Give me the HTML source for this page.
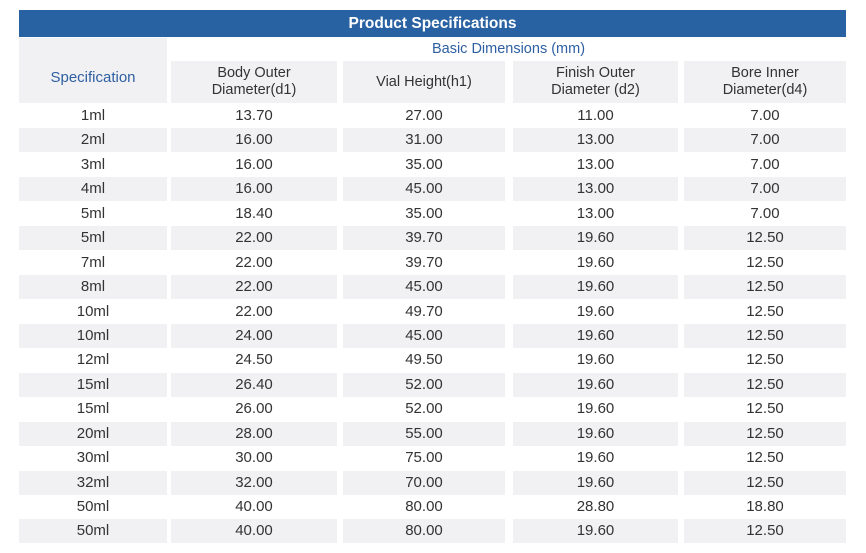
<!DOCTYPE html>
<html><head><meta charset="utf-8"><style>
body{margin:0;width:866px;height:553px;background:#fff;position:relative;overflow:hidden;font-family:"Liberation Sans",sans-serif;color:#333;}
.a{position:absolute;}
.t{left:19px;top:10px;width:827px;height:27px;background:#2962a3;color:#fff;font-size:15.5px;font-weight:bold;text-align:center;line-height:27px;}
.g{background:#f1f1f3;}
.r{position:absolute;left:0;width:866px;height:24px;font-size:15px;line-height:24px;}
.r span{position:absolute;top:0;height:24px;text-align:center;}
.c1{left:19px;width:148px}.c2{left:171px;width:166px}.c3{left:343px;width:162px}.c4{left:513px;width:165px}.c5{left:684px;width:162px}
.g span{background:#f1f1f3;}
.h{font-size:14.5px;line-height:17px;display:flex;align-items:center;justify-content:center;text-align:center;background:#f1f1f3;top:61px;height:42px;}
</style></head><body>
<div class="a t">Product Specifications</div>
<div class="a" style="left:19px;top:38px;width:148px;height:65px;background:#f1f1f3;color:#2d5fa2;font-size:15px;line-height:65px;text-align:center;padding-top:15px;box-sizing:border-box;line-height:50px">Specification</div>
<div class="a" style="left:171px;top:38px;width:675px;height:22px;color:#2d5fa2;font-size:14.5px;line-height:22px;text-align:center">Basic Dimensions (mm)</div>
<div class="a h c2">Body Outer<br>Diameter(d1)</div>
<div class="a h c3">Vial Height(h1)</div>
<div class="a h c4">Finish Outer<br>Diameter (d2)</div>
<div class="a h c5">Bore Inner<br>Diameter(d4)</div>
<div class="r" style="top:104px"><span class="c1">1ml</span><span class="c2">13.70</span><span class="c3">27.00</span><span class="c4">11.00</span><span class="c5">7.00</span></div>
<div class="r g" style="top:128px;background:none"><span class="c1">2ml</span><span class="c2">16.00</span><span class="c3">31.00</span><span class="c4">13.00</span><span class="c5">7.00</span></div>
<div class="r" style="top:153px"><span class="c1">3ml</span><span class="c2">16.00</span><span class="c3">35.00</span><span class="c4">13.00</span><span class="c5">7.00</span></div>
<div class="r g" style="top:177px;background:none"><span class="c1">4ml</span><span class="c2">16.00</span><span class="c3">45.00</span><span class="c4">13.00</span><span class="c5">7.00</span></div>
<div class="r" style="top:202px"><span class="c1">5ml</span><span class="c2">18.40</span><span class="c3">35.00</span><span class="c4">13.00</span><span class="c5">7.00</span></div>
<div class="r g" style="top:226px;background:none"><span class="c1">5ml</span><span class="c2">22.00</span><span class="c3">39.70</span><span class="c4">19.60</span><span class="c5">12.50</span></div>
<div class="r" style="top:251px"><span class="c1">7ml</span><span class="c2">22.00</span><span class="c3">39.70</span><span class="c4">19.60</span><span class="c5">12.50</span></div>
<div class="r g" style="top:275px;background:none"><span class="c1">8ml</span><span class="c2">22.00</span><span class="c3">45.00</span><span class="c4">19.60</span><span class="c5">12.50</span></div>
<div class="r" style="top:300px"><span class="c1">10ml</span><span class="c2">22.00</span><span class="c3">49.70</span><span class="c4">19.60</span><span class="c5">12.50</span></div>
<div class="r g" style="top:324px;background:none"><span class="c1">10ml</span><span class="c2">24.00</span><span class="c3">45.00</span><span class="c4">19.60</span><span class="c5">12.50</span></div>
<div class="r" style="top:348px"><span class="c1">12ml</span><span class="c2">24.50</span><span class="c3">49.50</span><span class="c4">19.60</span><span class="c5">12.50</span></div>
<div class="r g" style="top:373px;background:none"><span class="c1">15ml</span><span class="c2">26.40</span><span class="c3">52.00</span><span class="c4">19.60</span><span class="c5">12.50</span></div>
<div class="r" style="top:397px"><span class="c1">15ml</span><span class="c2">26.00</span><span class="c3">52.00</span><span class="c4">19.60</span><span class="c5">12.50</span></div>
<div class="r g" style="top:422px;background:none"><span class="c1">20ml</span><span class="c2">28.00</span><span class="c3">55.00</span><span class="c4">19.60</span><span class="c5">12.50</span></div>
<div class="r" style="top:446px"><span class="c1">30ml</span><span class="c2">30.00</span><span class="c3">75.00</span><span class="c4">19.60</span><span class="c5">12.50</span></div>
<div class="r g" style="top:471px;background:none"><span class="c1">32ml</span><span class="c2">32.00</span><span class="c3">70.00</span><span class="c4">19.60</span><span class="c5">12.50</span></div>
<div class="r" style="top:495px"><span class="c1">50ml</span><span class="c2">40.00</span><span class="c3">80.00</span><span class="c4">28.80</span><span class="c5">18.80</span></div>
<div class="r g" style="top:519px;background:none"><span class="c1">50ml</span><span class="c2">40.00</span><span class="c3">80.00</span><span class="c4">19.60</span><span class="c5">12.50</span></div>
</body></html>
